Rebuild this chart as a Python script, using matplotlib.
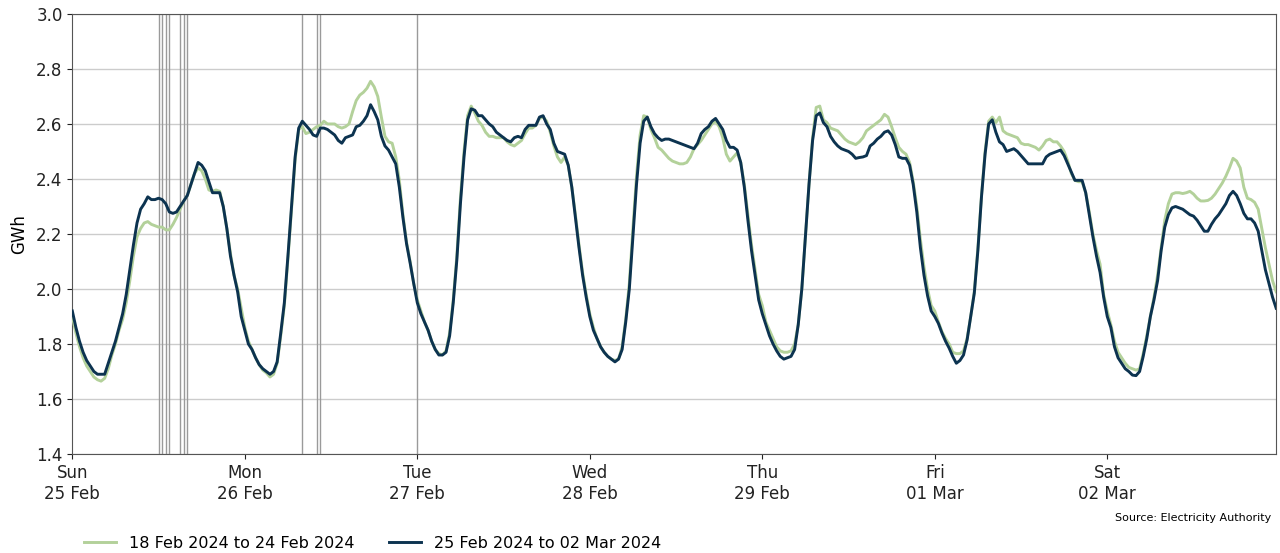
import numpy as np
import pandas as pd
import matplotlib
matplotlib.use('Agg')
import matplotlib.pyplot as plt
import matplotlib.dates as mdates

# half-hourly demand (GWh), one list of 48 trading periods per day
this_week = {
    'sun': [1.92, 1.86, 1.81, 1.77, 1.74, 1.72, 1.70, 1.69, 1.69, 1.69, 1.73, 1.77,
            1.81, 1.86, 1.91, 1.98, 2.07, 2.16, 2.24, 2.29, 2.31, 2.335, 2.325, 2.325,
            2.33, 2.325, 2.31, 2.28, 2.275, 2.28, 2.30, 2.32, 2.34, 2.38, 2.42, 2.46,
            2.45, 2.43, 2.39, 2.35, 2.35, 2.35, 2.30, 2.22, 2.12, 2.05, 1.99, 1.90],
    'mon': [1.85, 1.80, 1.78, 1.75, 1.725, 1.71, 1.70, 1.69, 1.70, 1.735, 1.84, 1.95,
            2.12, 2.30, 2.48, 2.585, 2.61, 2.595, 2.58, 2.56, 2.555, 2.585, 2.585, 2.58,
            2.57, 2.56, 2.54, 2.53, 2.55, 2.555, 2.56, 2.59, 2.595, 2.61, 2.63, 2.67,
            2.645, 2.615, 2.555, 2.52, 2.505, 2.48, 2.455, 2.37, 2.26, 2.165, 2.095, 2.02],
    'tue': [1.95, 1.91, 1.88, 1.85, 1.81, 1.78, 1.76, 1.76, 1.77, 1.83, 1.95, 2.105,
            2.31, 2.48, 2.615, 2.655, 2.65, 2.63, 2.63, 2.615, 2.60, 2.59, 2.57, 2.56,
            2.55, 2.54, 2.535, 2.55, 2.555, 2.55, 2.58, 2.595, 2.595, 2.595, 2.625, 2.63,
            2.60, 2.58, 2.53, 2.50, 2.495, 2.49, 2.45, 2.37, 2.26, 2.15, 2.05, 1.97],
    'wed': [1.90, 1.85, 1.82, 1.79, 1.77, 1.755, 1.745, 1.735, 1.745, 1.78, 1.88, 2.00,
            2.19, 2.38, 2.53, 2.61, 2.625, 2.59, 2.565, 2.55, 2.54, 2.545, 2.545, 2.54,
            2.535, 2.53, 2.525, 2.52, 2.515, 2.51, 2.53, 2.565, 2.58, 2.59, 2.61, 2.62,
            2.60, 2.58, 2.54, 2.515, 2.515, 2.505, 2.46, 2.37, 2.25, 2.14, 2.05, 1.96],
    'thu': [1.91, 1.87, 1.83, 1.80, 1.775, 1.755, 1.745, 1.75, 1.755, 1.78, 1.87, 2.00,
            2.19, 2.38, 2.54, 2.63, 2.64, 2.605, 2.59, 2.555, 2.535, 2.52, 2.51, 2.505,
            2.50, 2.49, 2.475, 2.478, 2.48, 2.485, 2.52, 2.53, 2.545, 2.555, 2.57, 2.575,
            2.56, 2.525, 2.48, 2.475, 2.475, 2.45, 2.38, 2.28, 2.15, 2.05, 1.975, 1.92],
    'fri': [1.90, 1.875, 1.84, 1.81, 1.785, 1.755, 1.73, 1.74, 1.76, 1.815, 1.90, 1.985,
            2.14, 2.335, 2.49, 2.60, 2.615, 2.57, 2.535, 2.525, 2.50, 2.505, 2.51, 2.50,
            2.485, 2.47, 2.455, 2.455, 2.455, 2.455, 2.455, 2.48, 2.49, 2.495, 2.50, 2.505,
            2.485, 2.455, 2.425, 2.395, 2.395, 2.395, 2.35, 2.27, 2.19, 2.12, 2.06, 1.97],
    'sat': [1.90, 1.86, 1.79, 1.75, 1.73, 1.71, 1.70, 1.687, 1.685, 1.70, 1.755, 1.82,
            1.90, 1.96, 2.03, 2.14, 2.225, 2.27, 2.295, 2.30, 2.295, 2.29, 2.28, 2.27,
            2.265, 2.25, 2.23, 2.21, 2.21, 2.235, 2.255, 2.27, 2.29, 2.31, 2.34, 2.355,
            2.34, 2.31, 2.275, 2.255, 2.255, 2.24, 2.21, 2.14, 2.07, 2.02, 1.97, 1.93],
}

last_week = {
    'sun': [1.90, 1.84, 1.79, 1.75, 1.72, 1.70, 1.68, 1.67, 1.665, 1.675, 1.71, 1.76,
            1.80, 1.85, 1.89, 1.95, 2.03, 2.12, 2.19, 2.22, 2.24, 2.245, 2.235, 2.23,
            2.225, 2.225, 2.215, 2.215, 2.235, 2.26, 2.29, 2.32, 2.34, 2.38, 2.42, 2.44,
            2.43, 2.40, 2.36, 2.355, 2.36, 2.355, 2.30, 2.22, 2.13, 2.05, 2.00, 1.93],
    'mon': [1.86, 1.81, 1.78, 1.75, 1.725, 1.705, 1.695, 1.68, 1.69, 1.73, 1.83, 1.94,
            2.11, 2.29, 2.47, 2.58, 2.59, 2.565, 2.57, 2.58, 2.59, 2.595, 2.61, 2.60,
            2.60, 2.60, 2.59, 2.585, 2.59, 2.60, 2.645, 2.685, 2.705, 2.715, 2.73, 2.755,
            2.735, 2.70, 2.625, 2.555, 2.535, 2.53, 2.48, 2.395, 2.27, 2.17, 2.10, 2.02],
    'tue': [1.96, 1.92, 1.88, 1.85, 1.81, 1.78, 1.765, 1.76, 1.775, 1.84, 1.96, 2.12,
            2.33, 2.50, 2.63, 2.665, 2.64, 2.61, 2.595, 2.57, 2.555, 2.555, 2.55, 2.55,
            2.55, 2.535, 2.525, 2.52, 2.53, 2.54, 2.565, 2.585, 2.585, 2.595, 2.62, 2.625,
            2.61, 2.57, 2.52, 2.48, 2.46, 2.48, 2.45, 2.37, 2.27, 2.16, 2.06, 1.98],
    'wed': [1.91, 1.86, 1.82, 1.79, 1.77, 1.755, 1.745, 1.74, 1.745, 1.79, 1.89, 2.02,
            2.22, 2.41, 2.56, 2.63, 2.625, 2.58, 2.55, 2.515, 2.505, 2.49, 2.475, 2.465,
            2.46, 2.455, 2.455, 2.46, 2.48, 2.51, 2.525, 2.54, 2.56, 2.58, 2.60, 2.61,
            2.59, 2.55, 2.49, 2.465, 2.48, 2.495, 2.46, 2.38, 2.27, 2.16, 2.07, 1.98],
    'thu': [1.94, 1.88, 1.85, 1.82, 1.79, 1.775, 1.77, 1.77, 1.775, 1.80, 1.87, 2.00,
            2.19, 2.38, 2.55, 2.66, 2.665, 2.615, 2.605, 2.585, 2.58, 2.575, 2.56, 2.545,
            2.535, 2.53, 2.525, 2.535, 2.55, 2.575, 2.585, 2.595, 2.605, 2.615, 2.635, 2.625,
            2.59, 2.55, 2.515, 2.50, 2.49, 2.46, 2.39, 2.30, 2.18, 2.08, 2.00, 1.94],
    'fri': [1.92, 1.88, 1.845, 1.82, 1.80, 1.77, 1.765, 1.765, 1.775, 1.82, 1.90, 1.99,
            2.15, 2.34, 2.50, 2.61, 2.625, 2.605, 2.625, 2.575, 2.565, 2.56, 2.555, 2.55,
            2.53, 2.525, 2.525, 2.52, 2.515, 2.505, 2.52, 2.54, 2.545, 2.535, 2.535, 2.52,
            2.50, 2.465, 2.42, 2.395, 2.39, 2.39, 2.35, 2.28, 2.20, 2.14, 2.09, 1.98],
    'sat': [1.92, 1.87, 1.81, 1.77, 1.75, 1.73, 1.715, 1.71, 1.705, 1.71, 1.765, 1.83,
            1.90, 1.97, 2.05, 2.15, 2.25, 2.31, 2.345, 2.35, 2.35, 2.347, 2.35, 2.355,
            2.345, 2.33, 2.32, 2.32, 2.322, 2.33, 2.345, 2.365, 2.385, 2.41, 2.44, 2.475,
            2.465, 2.44, 2.37, 2.33, 2.325, 2.315, 2.29, 2.22, 2.15, 2.09, 2.03, 1.99],
}

days = ['sun', 'mon', 'tue', 'wed', 'thu', 'fri', 'sat']

# periods flagged in the current week
flagged_times = ['2024-02-25 12:00', '2024-02-25 12:30', '2024-02-25 13:00',
                 '2024-02-25 13:30', '2024-02-25 15:00', '2024-02-25 15:30',
                 '2024-02-25 16:00', '2024-02-26 08:00', '2024-02-26 10:00',
                 '2024-02-26 10:30', '2024-02-27 00:00']

label_last = '18 Feb 2024 to 24 Feb 2024'
label_this = '25 Feb 2024 to 02 Mar 2024'

index = pd.date_range('2024-02-25 00:00', periods=48 * 7, freq='30min')
demand = pd.DataFrame({
    'last': np.concatenate([last_week[d] for d in days]),
    'this': np.concatenate([this_week[d] for d in days]),
}, index=index)

fig = plt.figure(figsize=(12.8, 5.53), dpi=100)
ax = fig.add_axes([0.0565, 0.179, 0.9405, 0.7958])

for t in flagged_times:
    ax.axvline(pd.Timestamp(t), color='#9a9a9a', linewidth=1, zorder=1)

ax.plot(demand.index, demand['last'], color='#b3d19a', linewidth=2.1,
        label=label_last, zorder=3)
ax.plot(demand.index, demand['this'], color='#0c3350', linewidth=2.1,
        label=label_this, zorder=4)

ax.set_xlim(demand.index[0], demand.index[-1])
ax.set_ylim(1.4, 3.0)
ax.set_yticks(np.arange(1.4, 3.01, 0.2))
ax.yaxis.set_major_formatter(plt.FormatStrFormatter('%.1f'))
ax.xaxis.set_major_locator(mdates.DayLocator())
ax.xaxis.set_major_formatter(mdates.DateFormatter('%a\n%d %b'))
ax.tick_params(labelsize=12, colors='#222222')
ax.grid(axis='y', color='#cccccc', linewidth=1)
ax.set_axisbelow(True)
for sp in ax.spines.values():
    sp.set_color('#555555')
ax.set_ylabel('GWh', fontsize=12, labelpad=6)

fig.text(0.993, 0.063, 'Source: Electricity Authority', ha='right',
         va='center', fontsize=8)
fig.legend(loc='center', bbox_to_anchor=(0.291, 0.018), ncol=2,
           frameon=False, fontsize=11.5, handlelength=2.0, columnspacing=2.2)

fig.savefig('out.png', dpi=100)
